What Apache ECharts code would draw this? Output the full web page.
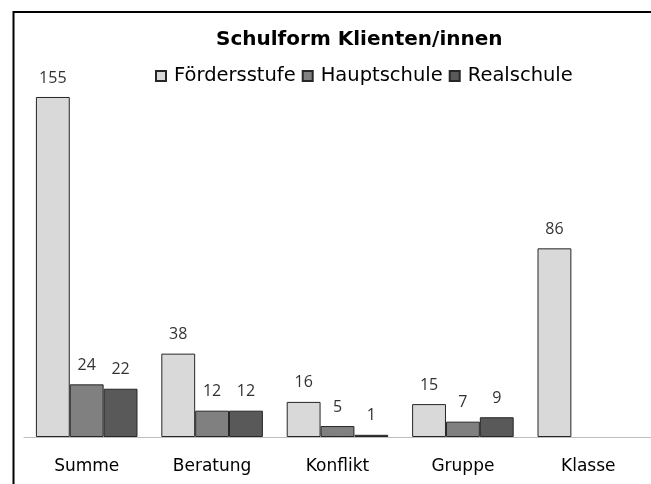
<!DOCTYPE html>
<html>
<head>
<meta charset="utf-8">
<script src="https://cdn.jsdelivr.net/npm/echarts@6/dist/echarts.min.js"></script>
<style>
  html, body { margin: 0; padding: 0; background: #fff; }
  #chart { width: 651px; height: 484px; }
</style>
</head>
<body>
<div id="chart"></div>
<script>
// Schulform Klienten/innen
var categories = ['Summe', 'Beratung', 'Konflikt', 'Gruppe', 'Klasse']
var seriesNames = ['Fördersstufe', 'Hauptschule', 'Realschule']
var foerderstufe = [155, 38, 16, 15, 86]
var hauptschule = [24, 12, 5, 7, null]
var realschule = [22, 12, 1, 9, null]

;(function () {
  var myChart = echarts.init(document.getElementById('chart'))
  var colors = ['#d9d9d9', '#808080', '#595959']
  var values = [foerderstufe, hauptschule, realschule]

  var series = seriesNames.map(function (name, i) {
    return {
      name: name,
      type: 'bar',
      data: values[i],
      barGap: '0%',
      barCategoryGap: '19%',
      itemStyle: {
        color: colors[i],
        borderColor: '#262626',
        borderWidth: 1
      },
      label: {
        show: true,
        position: 'top',
        distance: 11,
        color: '#333',
        fontFamily: 'Open Sans',
        fontSize: 16
      }
    }
  })

  var option = {
    animation: false,
    title: {
      text: 'Schulform Klienten/innen',
      left: 216,
      top: 30,
      padding: 0,
      textStyle: {
        fontFamily: 'DejaVu Sans',
        fontWeight: 'bold',
        fontSize: 20,
        lineHeight: 20,
        color: '#000'
      }
    },
    legend: {
      data: seriesNames,
      left: 155,
      top: 66,
      padding: 0,
      icon: 'rect',
      itemWidth: 10,
      itemHeight: 10,
      itemGap: 6,
      textStyle: {
        fontFamily: 'DejaVu Sans',
        fontSize: 19.5,
        lineHeight: 20,
        color: '#000',
        padding: [0, 0, 0, 3]
      }
    },
    grid: {
      left: 24,
      top: 86,
      width: 635,
      height: 351
    },
    xAxis: {
      type: 'category',
      data: categories,
      axisLine: { lineStyle: { color: '#bfbfbf', width: 1 } },
      axisTick: { length: 5, lineStyle: { color: '#bfbfbf' } },
      axisLabel: {
        margin: 21,
        fontFamily: 'DejaVu Sans',
        fontSize: 17,
        color: '#000'
      }
    },
    yAxis: {
      type: 'value',
      min: 0,
      max: 160,
      show: false,
      splitLine: { show: false }
    },
    graphic: [
      {
        type: 'rect',
        shape: { x: 13.5, y: 12, width: 800, height: 600 },
        style: { fill: 'none', stroke: '#000', lineWidth: 2 },
        silent: true
      }
    ],
    series: series
  }

  myChart.setOption(option)
  window.addEventListener('resize', function () {
    myChart.resize()
  })
})()
</script>
</body>
</html>
